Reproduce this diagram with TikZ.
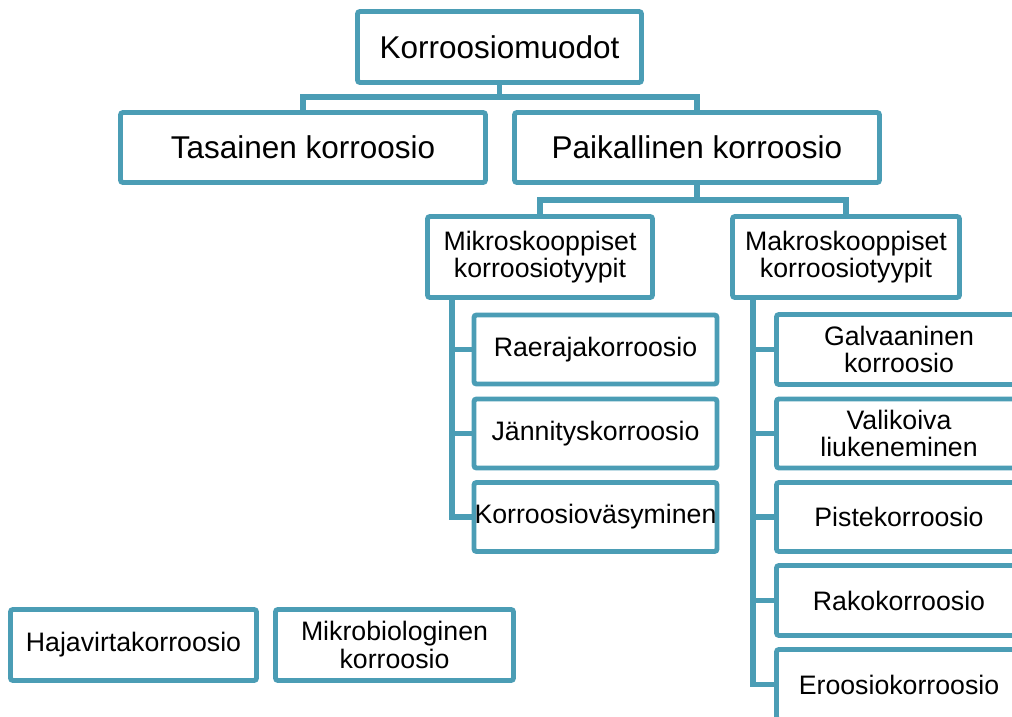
\documentclass[tikz,border=0pt]{standalone}
\usepackage{fontspec}
\setmainfont{Liberation Sans}
\definecolor{teal1}{RGB}{75,157,181}
\begin{document}
\begin{tikzpicture}[x=1pt,y=-1pt,
  box/.style={draw=teal1, line width=4.9pt, fill=white, rounded corners=2.5pt,
    inner sep=0pt, outer sep=0pt, align=center},
  big/.style={box, font=\fontsize{31.5}{34}\selectfont},
  small/.style={box, font=\fontsize{26.7}{27.5}\selectfont},
  conn/.style={draw=teal1, line width=5.4pt}]
\useasboundingbox (0,0) rectangle (1012,717);
\clip (0,0) rectangle (1012,717);
% level 0/1
\node[big, minimum width=284, minimum height=71] (root) at (499.5,47) {Korroosiomuodot};
\node[big, minimum width=365, minimum height=70] (tas) at (303,147.5) {Tasainen korroosio};
\node[big, minimum width=365, minimum height=70] (paik) at (697,147.5) {Paikallinen korroosio};
% level 2
\node[small, minimum width=225, minimum height=81] (mikro) at (540,257) {Mikroskooppiset\\korroosiotyypit};
\node[small, minimum width=227, minimum height=81] (makro) at (846,257) {Makroskooppiset\\korroosiotyypit};
% mikro children
\node[small, minimum width=243, minimum height=69] (rae) at (595.5,349.5) {Raerajakorroosio};
\node[small, minimum width=243, minimum height=69] (jan) at (595.5,433.5) {Jännityskorroosio};
\node[small, minimum width=243, minimum height=69] (kv) at (595.5,517) {Korroosioväsyminen};
% makro children
\node[small, minimum width=245, minimum height=70] (galv) at (899,349.5) {Galvaaninen\\korroosio};
\node[small, minimum width=245, minimum height=69] (vali) at (899,433.5) {Valikoiva\\liukeneminen};
\node[small, minimum width=245, minimum height=69] (piste) at (899,517) {Pistekorroosio};
\node[small, minimum width=245, minimum height=70] (rako) at (899,600.5) {Rakokorroosio};
\node[small, minimum width=245, minimum height=70] (ero) at (899,684.5) {Eroosiokorroosio};
% loose boxes
\node[small, minimum width=246, minimum height=71] (haja) at (133.5,645) {Hajavirtakorroosio};
\node[small, minimum width=238, minimum height=71] (mikrob) at (394.5,645) {Mikrobiologinen\\korroosio};
% connectors
\coordinate (b1) at (0,97);
\coordinate (b2) at (0,200);
\coordinate (mv) at (452,0);
\coordinate (Mv) at (753,0);
\draw[conn] (root.south) -- (root.south |- b1);
\draw[conn] (tas.north) |- (paik.north |- b1) -- (paik.north);
\draw[conn] (paik.south) -- (paik.south |- b2);
\draw[conn] (mikro.north) |- (makro.north |- b2) -- (makro.north);
\draw[conn] (mikro.south -| mv) |- (kv.west);
\draw[conn] (mv |- rae.west) -- (rae.west);
\draw[conn] (mv |- jan.west) -- (jan.west);
\draw[conn] (makro.south -| Mv) |- (ero.west);
\draw[conn] (Mv |- galv.west) -- (galv.west);
\draw[conn] (Mv |- vali.west) -- (vali.west);
\draw[conn] (Mv |- piste.west) -- (piste.west);
\draw[conn] (Mv |- rako.west) -- (rako.west);
\end{tikzpicture}
\end{document}
